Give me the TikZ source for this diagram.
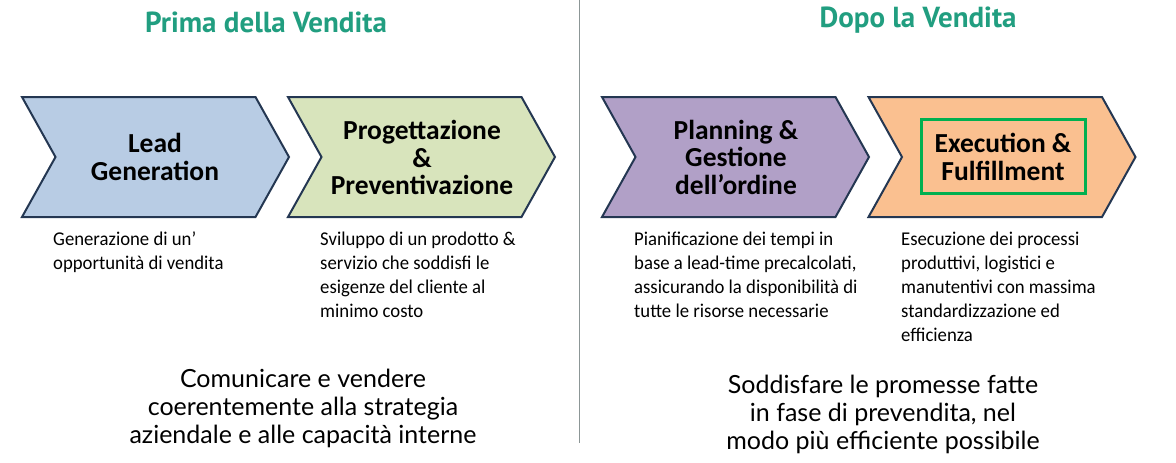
\documentclass[tikz,border=0pt]{standalone}
\usepackage{fontspec}
\setmainfont{Carlito}
\newfontfamily\titlefont{PT Sans}
\newfontfamily\labelfont{Carlito}
\newfontfamily\descfont{Carlito}[FakeStretch=0.96]
\newfontfamily\bottomfont{Lato}
\definecolor{titlegreen}{RGB}{33,158,128}
\definecolor{divider}{RGB}{140,150,150}
\definecolor{chevborder}{RGB}{36,55,82}
\definecolor{cblue}{RGB}{184,204,228}
\definecolor{cgreen}{RGB}{216,228,188}
\definecolor{cpurple}{RGB}{177,160,199}
\definecolor{corange}{RGB}{250,192,144}
\definecolor{boxgreen}{RGB}{0,176,80}
\tikzset{
  chevron/.style={draw=chevborder, line width=2pt, line join=miter},
  titletext/.style={font=\titlefont\bfseries\fontsize{29}{32}\selectfont, text=titlegreen, inner sep=0},
  chevlabel/.style={font=\labelfont\bfseries\fontsize{27.5}{27.5}\selectfont, align=center, inner sep=0},
  desctext/.style={font=\descfont\fontsize{19.5}{24}\selectfont, align=left, anchor=north west, inner sep=0},
  bottomtext/.style={font=\bottomfont\fontsize{25}{28}\selectfont, align=center, inner sep=0},
}
\newcommand{\chevshape}[2]{%
  \filldraw[chevron, fill=#2] (#1,97) -- ++(233.5,0) -- ++(33.5,60) -- ++(-33.5,60) -- ++(-233.5,0) -- ++(33.5,-60) -- cycle;}
\begin{document}
\begin{tikzpicture}[x=1pt,y=-1pt]
\useasboundingbox (0,0) rectangle (1176,463);
% divider
\draw[divider, line width=1pt] (579.5,0) -- (579.5,443);
% titles
\node[titletext] (t1) at (266,22) {Prima della Vendita};
\node[titletext] (t2) at (918,20) {Dopo la Vendita};
% chevrons
\chevshape{22}{cblue}
\chevshape{288}{cgreen}
\chevshape{602}{cpurple}
\chevshape{868.5}{corange}
% green box
\draw[boxgreen, line width=3pt] (921,119) rectangle (1085,193.5);
% labels
\node[chevlabel] (l1) at (155,157) {Lead\\Generation};
\node[chevlabel] (l2) at (422,157.5) {Progettazione\\\&\\Preventivazione};
\node[chevlabel] (l3) at (736,157) {Planning \&\\Gestione\\dell’ordine};
\node[chevlabel] (l4) at (1003,157) {Execution \&\\Fulfillment};
% descriptions
\node[desctext] (d1) at (53,232) {Generazione di un’\\opportunità di vendita};
\node[desctext] (d2) at (320,232) {Sviluppo di un prodotto \&\\servizio che soddisfi le\\esigenze del cliente al\\minimo costo};
\node[desctext] (d3) at (634,232) {Pianificazione dei tempi in\\base a lead-time precalcolati,\\assicurando la disponibilità di\\tutte le risorse necessarie};
\node[desctext] (d4) at (901,232) {Esecuzione dei processi\\produttivi, logistici e\\manutentivi con massima\\standardizzazione ed\\efficienza};
% bottom
\node[bottomtext] (b1) at (303,408) {Comunicare e vendere\\coerentemente alla strategia\\aziendale e alle capacità interne};
\node[bottomtext] (b2) at (883,414) {Soddisfare le promesse fatte\\in fase di prevendita, nel\\modo più efficiente possibile};
\end{tikzpicture}
\end{document}
